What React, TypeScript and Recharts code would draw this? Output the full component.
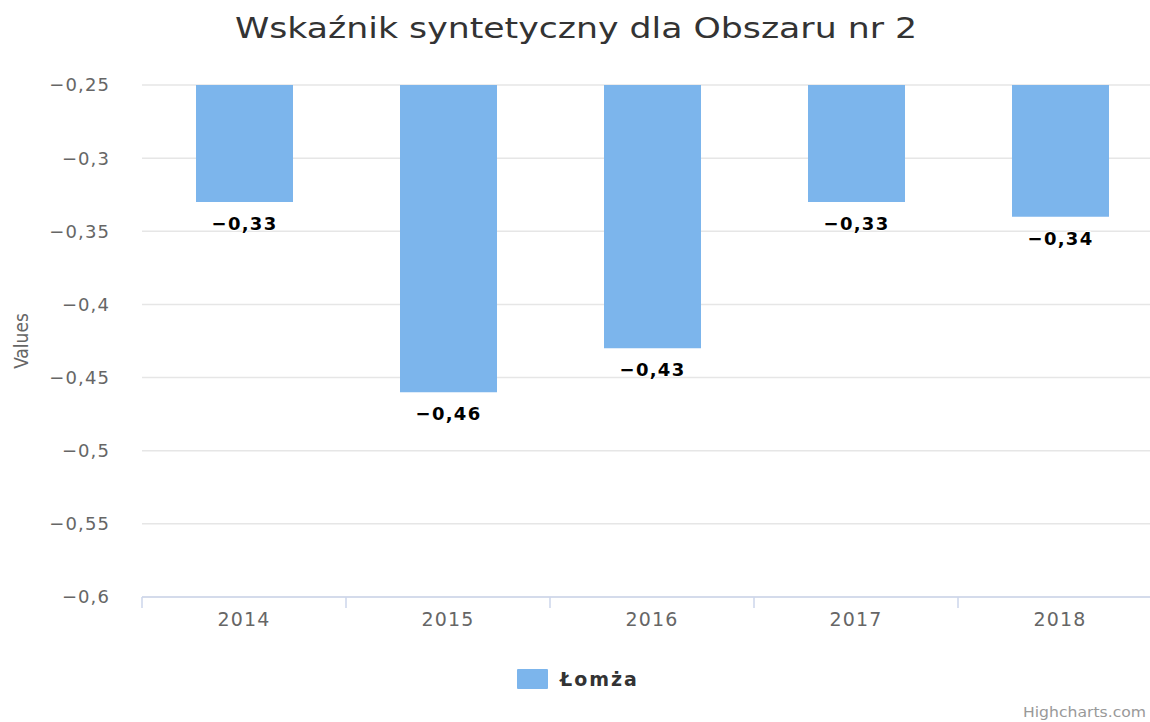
import React from 'react';
import { BarChart, Bar, XAxis, YAxis, CartesianGrid, LabelList } from 'recharts';

const years = ['2014', '2015', '2016', '2017', '2018'];
const values = [-0.33, -0.46, -0.43, -0.33, -0.34];
const yTicks = [-0.6, -0.55, -0.5, -0.45, -0.4, -0.35, -0.3, -0.25];
const seriesName = 'Łomża';
const titleText = 'Wskaźnik syntetyczny dla Obszaru nr 2';
const yTitle = 'Values';

const data = years.map((y, i) => ({ year: y, value: values[i] }));

const FONT = '"DejaVu Sans", Verdana, sans-serif';

const fmt = (v: number) => {
  const s = String(Math.round(v * 100) / 100).replace('.', ',');
  return s.replace('-', '\u2212');
};

const XTick = (props: any) => {
  const { x, y, payload } = props;
  const off = payload && payload.offset ? payload.offset : 0;
  return (
    <g>
      <line x1={x - off} y1={y} x2={x - off} y2={y + 11} stroke="#ccd6eb" strokeWidth={1.5} />
      <text x={x} y={y + 29} textAnchor="middle" fill="#666666" fontSize={19} letterSpacing={1.2} fontFamily={FONT}>
        {payload.value}
      </text>
    </g>
  );
};

const DataLabel = (props: any) => {
  const { x, y, width, height, value } = props;
  const bottom = Math.max(y, y + height);
  return (
    <text
      x={x + width / 2}
      y={bottom + 28}
      textAnchor="middle"
      fill="#000000"
      fontSize={18}
      fontWeight="bold"
      letterSpacing={1.3}
      fontFamily={FONT}
      stroke="#ffffff"
      strokeWidth={2}
      paintOrder="stroke"
    >
      {fmt(value)}
    </text>
  );
};

export default function App() {
  return (
    <div style={{ position: 'absolute', left: 0, top: 0, width: 1150, height: 722, overflow: 'hidden', background: '#ffffff' }}>
      <svg width={1150} height={60} style={{ position: 'absolute', left: 0, top: 0 }}>
        <text
          x={235}
          y={38}
          fill="#333333"
          fontSize={29}
          fontFamily={FONT}
          textLength={682}
          lengthAdjust="spacingAndGlyphs"
        >
          {titleText}
        </text>
      </svg>
      <div style={{ position: 'absolute', left: 0, top: 0 }}>
        <BarChart
          width={1170}
          height={722}
          data={data}
          margin={{ top: 85, right: 8, bottom: 95, left: 0 }}
          barSize={97}
        >
          <CartesianGrid vertical={false} stroke="#e6e6e6" strokeWidth={1.5} />
          <XAxis
            dataKey="year"
            height={30}
            axisLine={{ stroke: '#ccd6eb', strokeWidth: 1.5 }}
            tickLine={false}
            tickSize={0}
            tickMargin={0}
            tick={<XTick />}
            interval={0}
          />
          <YAxis
            type="number"
            domain={[-0.6, -0.25]}
            ticks={yTicks}
            width={142}
            axisLine={false}
            tickLine={false}
            tickSize={0}
            tickMargin={32}
            tickFormatter={fmt}
            tick={{ fill: '#666666', fontSize: 18, fontFamily: FONT, letterSpacing: 1.1 }}
            allowDataOverflow
            label={{
              content: () => (
                <text
                  x={28}
                  y={341}
                  transform="rotate(-90 28 341)"
                  textAnchor="middle"
                  fill="#666666"
                  fontSize={19}
                  fontFamily='"DejaVu Sans Condensed", "DejaVu Sans", sans-serif'
                >
                  {yTitle}
                </text>
              ),
            }}
          />
          <Bar dataKey="value" name={seriesName} fill="#7cb5ec" isAnimationActive={false}>
            <LabelList dataKey="value" content={<DataLabel />} />
          </Bar>
        </BarChart>
      </div>
      <div
        style={{
          position: 'absolute',
          left: 517,
          top: 668,
          display: 'flex',
          alignItems: 'center',
          fontFamily: FONT,
          fontWeight: 'bold',
          fontSize: 19,
          letterSpacing: 2,
          color: '#333333',
        }}
      >
        <div style={{ width: 31, height: 20, background: '#7cb5ec', borderRadius: 1 }} />
        <span style={{ marginLeft: 12 }}>{seriesName}</span>
      </div>
      <svg width={1150} height={32} style={{ position: 'absolute', left: 0, top: 690 }}>
        <text
          x={1023}
          y={27}
          fill="#999999"
          fontSize={14}
          fontFamily={FONT}
          textLength={123}
          lengthAdjust="spacingAndGlyphs"
        >
          Highcharts.com
        </text>
      </svg>
    </div>
  );
}
